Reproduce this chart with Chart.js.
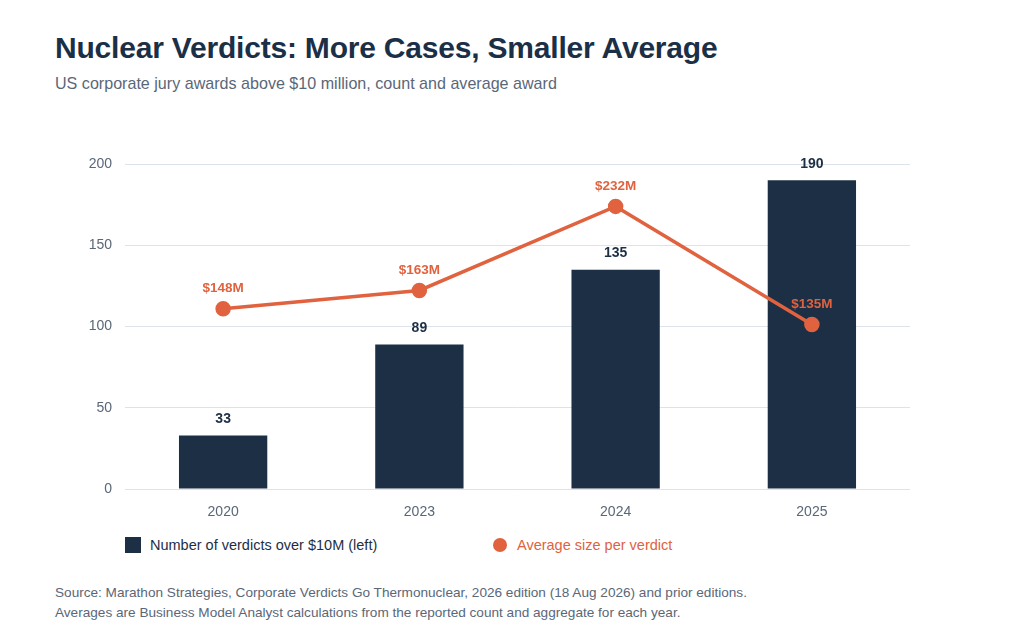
<!DOCTYPE html>
<html>
<head>
<meta charset="utf-8">
<script src="https://cdn.jsdelivr.net/npm/chart.js@4"></script>
<style>
  body { margin:0; background:#fff; font-family:"Liberation Sans", Arial, sans-serif; width:1024px; height:637px; position:relative; overflow:hidden; }
  h1 { position:absolute; left:55px; top:31px; margin:0; font-size:30px; font-weight:700; color:#1b2f47; letter-spacing:-0.2px; }
  .sub { position:absolute; left:55px; top:74px; font-size:16.1px; color:#5a6778; }
  .wrap { position:absolute; left:60px; top:140px; width:860px; height:389px; }
  .legend { position:absolute; top:536px; left:125px; font-size:14.5px; }
  .legend span { position:absolute; white-space:nowrap; }
  .sw { width:16px; height:16px; background:#1d2f45; top:1px; left:0; }
  .dot { width:14px; height:14px; border-radius:50%; background:#e0623f; top:2px; left:368px; }
  .src { position:absolute; left:55px; top:583px; font-size:13.6px; color:#5a6778; line-height:20px; }
</style>
</head>
<body>
<h1>Nuclear Verdicts: More Cases, Smaller Average</h1>
<div class="sub">US corporate jury awards above $10 million, count and average award</div>
<div class="wrap"><canvas id="c"></canvas></div>
<div class="legend">
  <span class="sw"></span><span style="left:25px;top:1px;color:#1d2f45;">Number of verdicts over $10M (left)</span>
  <span class="dot"></span><span style="left:392px;top:1px;color:#e0623f;">Average size per verdict</span>
</div>
<div class="src">Source: Marathon Strategies, Corporate Verdicts Go Thermonuclear, 2026 edition (18 Aug 2026) and prior editions.<br>Averages are Business Model Analyst calculations from the reported count and aggregate for each year.</div>
<script>
const years = ['2020', '2023', '2024', '2025'];
const verdictCounts = [33, 89, 135, 190];
const avgAward = [148, 163, 232, 135];   // $M
const countTicks = [0, 50, 100, 150, 200];

const NAVY = '#1d2f45', ORANGE = '#e0623f', GRAY = '#5a6778';

// value labels above bars and points
const valueLabels = {
  id: 'valueLabels',
  afterDatasetsDraw(chart) {
    const ctx = chart.ctx;
    ctx.save();
    ctx.textAlign = 'center';
    ctx.textBaseline = 'middle';
    chart.getDatasetMeta(0).data.forEach((el, i) => {
      ctx.font = 'bold 14px "Liberation Sans", Arial, sans-serif';
      ctx.fillStyle = NAVY;
      ctx.fillText(verdictCounts[i], el.x, el.y - 16);
    });
    chart.getDatasetMeta(1).data.forEach((el, i) => {
      ctx.font = 'bold 13.5px "Liberation Sans", Arial, sans-serif';
      ctx.fillStyle = ORANGE;
      ctx.fillText('$' + avgAward[i] + 'M', el.x, el.y - 20);
    });
    ctx.restore();
  }
};

new Chart(document.getElementById('c'), {
  data: {
    labels: years,
    datasets: [
      { type:'bar', label:'Number of verdicts over $10M (left)', data:verdictCounts, yAxisID:'y', backgroundColor:NAVY, barPercentage:0.45, categoryPercentage:1, order:1 },
      { type:'line', label:'Average size per verdict', data:avgAward, yAxisID:'y1', borderColor:ORANGE, backgroundColor:ORANGE, borderWidth:3.5, pointRadius:6, pointHoverRadius:6, tension:0, order:0 }
    ]
  },
  options: {
    responsive:true, maintainAspectRatio:false, animation:false,
    layout: { padding:{ top:24, right:10, left:0, bottom:0 } },
    plugins: { legend:{ display:false }, tooltip:{ enabled:false } },
    scales: {
      x: {
        grid:{ display:false }, border:{ display:false },
        ticks:{ color:GRAY, font:{ size:14, family:'"Liberation Sans", Arial, sans-serif' }, padding:7 },
        afterFit(s) { s.height = 40; }
      },
      y: {
        min:0, max:200,
        afterBuildTicks(s) { s.ticks = countTicks.map(v => ({ value:v })); },
        grid:{ color:'#dde3ea', lineWidth:1, drawTicks:false }, border:{ display:false },
        ticks:{ color:GRAY, font:{ size:14, family:'"Liberation Sans", Arial, sans-serif' }, padding:13 },
        afterFit(s) { s.width = 65; }
      },
      y1: { display:false, min:0, max:Math.max(...avgAward) * 1.15 }
    }
  },
  plugins:[valueLabels]
});
</script>
</body>
</html>
